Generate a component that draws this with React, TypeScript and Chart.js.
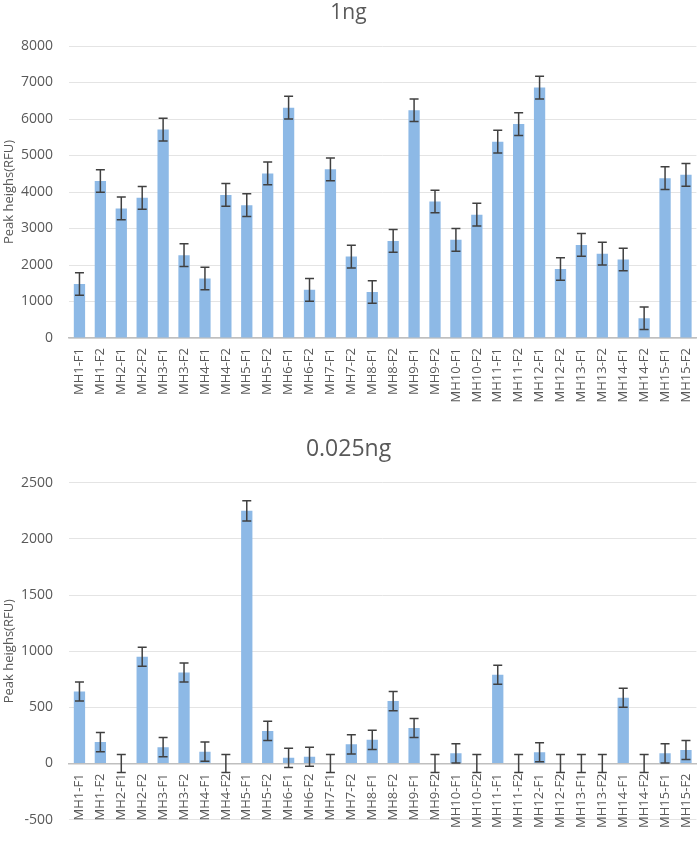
import React, { useEffect, useRef } from "react";
import { Chart, registerables } from "chart.js";

Chart.register(...registerables);

const categories = [
  "MH1-F1", "MH1-F2", "MH2-F1", "MH2-F2", "MH3-F1", "MH3-F2", "MH4-F1", "MH4-F2",
  "MH5-F1", "MH5-F2", "MH6-F1", "MH6-F2", "MH7-F1", "MH7-F2", "MH8-F1", "MH8-F2",
  "MH9-F1", "MH9-F2", "MH10-F1", "MH10-F2", "MH11-F1", "MH11-F2", "MH12-F1", "MH12-F2",
  "MH13-F1", "MH13-F2", "MH14-F1", "MH14-F2", "MH15-F1", "MH15-F2",
];

const values1ng = [
  1480, 4300, 3550, 3840, 5710, 2270, 1630, 3920, 3640, 4510, 6310, 1320, 4620, 2230, 1260,
  2660, 6240, 3740, 2690, 3380, 5380, 5860, 6860, 1890, 2550, 2310, 2150, 540, 4380, 4470,
];
const errors1ng = [
  310, 310, 310, 310, 310, 310, 310, 310, 310, 310, 310, 310, 310, 310, 310,
  310, 310, 310, 310, 310, 310, 310, 310, 310, 310, 310, 310, 310, 310, 310,
];

const values0025ng = [
  640, 190, 0, 950, 145, 810, 105, 0, 2250, 290, 50, 60, 0, 170, 210,
  555, 315, 0, 90, 0, 790, 0, 100, 0, 0, 0, 585, 0, 90, 120,
];
const errors0025ng = [
  85, 85, 80, 85, 85, 85, 85, 80, 90, 85, 85, 85, 80, 85, 85,
  85, 85, 80, 85, 80, 85, 80, 85, 80, 80, 80, 85, 80, 85, 85,
];

const ticks1ng = { min: 0, max: 8000, step: 1000 };
const ticks0025ng = { min: -500, max: 2500, step: 500 };

const FONT = "'Open Sans', 'Noto Sans', sans-serif";
const TEXT = "#595959";
const BAR = "#8DB9E6";

const errorBarsPlugin = {
  id: "errorBars",
  afterDatasetsDraw(chart: any, _args: any, opts: any) {
    const { ctx } = chart;
    const meta = chart.getDatasetMeta(0);
    const ys = chart.scales.y;
    const vals: number[] = chart.data.datasets[0].data;
    const errs: number[] = opts.errors || [];
    ctx.save();
    ctx.strokeStyle = "#404040";
    ctx.lineWidth = 1.5;
    meta.data.forEach((bar: any, i: number) => {
      const x = bar.x;
      const top = ys.getPixelForValue(vals[i] + errs[i]);
      const bot = ys.getPixelForValue(vals[i] - errs[i]);
      const h = 4.5;
      ctx.beginPath();
      ctx.moveTo(x, top);
      ctx.lineTo(x, bot);
      ctx.moveTo(x - h, top);
      ctx.lineTo(x + h, top);
      ctx.moveTo(x - h, bot);
      ctx.lineTo(x + h, bot);
      ctx.stroke();
    });
    ctx.restore();
  },
};

function makeConfig(
  title: string,
  values: number[],
  errors: number[],
  t: { min: number; max: number; step: number },
  titleSize: number,
  titlePad: { top: number; bottom: number },
  axisAtZero: boolean
): any {
  return {
    type: "bar",
    data: {
      labels: categories,
      datasets: [
        {
          data: values,
          backgroundColor: BAR,
          borderWidth: 0,
          barPercentage: 0.54,
          categoryPercentage: 1.0,
        },
      ],
    },
    plugins: [errorBarsPlugin],
    options: {
      responsive: false,
      animation: false,
      layout: { padding: { left: 0, right: 2, top: 0, bottom: axisAtZero ? 10.7 : 0 } },
      plugins: {
        legend: { display: false },
        tooltip: { enabled: false },
        title: {
          display: true,
          text: title,
          color: TEXT,
          font: { family: FONT, size: titleSize, weight: "normal" },
          padding: titlePad,
        },
        errorBars: { errors },
      },
      scales: {
        x: {
          position: axisAtZero ? { y: 0 } : "bottom",
          offset: true,
          grid: { display: false, drawTicks: true, tickLength: 10 },
          border: { display: true, color: "#BFBFBF", width: 1.5 },
          ticks: {
            color: TEXT,
            font: { family: FONT, size: 13, lineHeight: 1 },
            minRotation: 90,
            maxRotation: 90,
            autoSkip: false,
            padding: 0,
          },
          afterFit: (s: any) => {
            if (!axisAtZero) s.height = 82;
          },
        },
        y: {
          min: t.min,
          max: t.max,
          grid: { color: "#E4E4E4", lineWidth: 1, drawTicks: false },
          border: { display: false },
          ticks: {
            stepSize: t.step,
            color: TEXT,
            font: { family: FONT, size: 14 },
            padding: 16,
            callback: (v: any) => String(v),
          },
          title: {
            display: true,
            text: "Peak heighs(RFU)",
            color: TEXT,
            font: { family: FONT, size: 13 },
            padding: { top: 1, bottom: 0 },
          },
          afterFit: (s: any) => {
            s.width = 69;
          },
        },
      },
    },
  };
}

function BarChart(props: { config: any; width: number; height: number }) {
  const ref = useRef<HTMLCanvasElement | null>(null);
  useEffect(() => {
    if (!ref.current) return;
    const chart = new Chart(ref.current, props.config);
    return () => chart.destroy();
  }, []);
  return (
    <canvas
      ref={ref}
      width={props.width}
      height={props.height}
      style={{ display: "block", width: props.width, height: props.height }}
    />
  );
}

export default function App() {
  const top = makeConfig("1ng", values1ng, errors1ng, ticks1ng, 21, { top: 0, bottom: 20.8 }, false);
  const bottom = makeConfig(
    "0.025ng",
    values0025ng,
    errors0025ng,
    ticks0025ng,
    23,
    { top: 15.2, bottom: 19.9 },
    true
  );
  return (
    <div style={{ position: "absolute", left: 0, top: 0, width: 699, height: 844, background: "#fff" }}>
      <BarChart config={top} width={699} height={420} />
      <BarChart config={bottom} width={699} height={424} />
    </div>
  );
}
